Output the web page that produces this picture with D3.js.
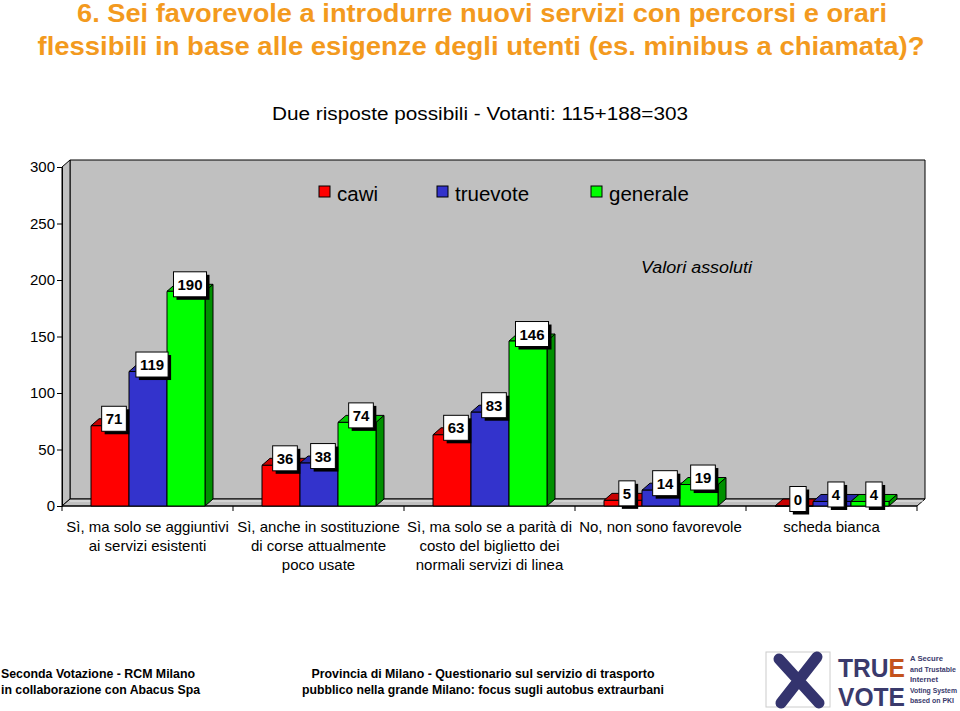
<!DOCTYPE html>
<html><head><meta charset="utf-8">
<script src="https://cdn.jsdelivr.net/npm/d3@7"></script>
<style>body{margin:0;background:#fff}svg{display:block}text{font-family:"Liberation Sans",Arial,sans-serif}</style>
</head><body>
<svg id="c" width="960" height="711"></svg>
<script>
const categories = [
  ["Sì, ma solo se aggiuntivi","ai servizi esistenti"],
  ["Sì, anche in sostituzione","di corse attualmente","poco usate"],
  ["Sì, ma solo se a parità di","costo del biglietto dei","normali servizi di linea"],
  ["No, non sono favorevole"],
  ["scheda bianca"]
];
const series = ["cawi","truevote","generale"];
const cawi = [71, 36, 63, 5, 0];
const truevote = [119, 38, 83, 14, 4];
const generale = [190, 74, 146, 19, 4];
const yTicks = [0, 50, 100, 150, 200, 250, 300];
const values = {cawi, truevote, generale};
const colors = {
  cawi: {front:"#FF0000", top:"#C80000", side:"#A00000"},
  truevote: {front:"#3333CC", top:"#2828A8", side:"#1E1E88"},
  generale: {front:"#00FF00", top:"#00C800", side:"#009000"}
};

const svg = d3.select("#c");
const DX = 8, DY = 7;
const x0 = d3.scaleBand().domain(d3.range(categories.length)).range([62, 917]);
const x1 = d3.scaleBand().domain(series).range([29, 143]);
const y = d3.scaleLinear().domain([0, 300]).range([506, 167]);

// Title
const title = svg.append("g").attr("fill", "#F39A1E").attr("font-weight", "bold")
  .style("font-family", '"Liberation Sans Narrow","Arial Narrow","Liberation Sans",Arial,sans-serif')
  .attr("font-size", 25).attr("text-anchor", "middle");
title.append("text").attr("x", 482).attr("y", 22).attr("textLength", 810).attr("lengthAdjust","spacingAndGlyphs")
  .text("6. Sei favorevole a introdurre nuovi servizi con percorsi e orari");
title.append("text").attr("x", 481).attr("y", 55).attr("textLength", 887).attr("lengthAdjust","spacingAndGlyphs")
  .text("flessibili in base alle esigenze degli utenti (es. minibus a chiamata)?");

svg.append("text").attr("x", 480).attr("y", 120).attr("text-anchor", "middle").attr("font-size", 18)
  .attr("textLength", 416).attr("lengthAdjust","spacingAndGlyphs")
  .text("Due risposte possibili -  Votanti: 115+188=303");

// 3D walls
const L = 62, R = 917, T = y(300), B = y(0);
const wall = svg.append("g").attr("stroke", "#000").attr("stroke-width", 1);
wall.append("path").attr("fill", "#C0C0C0")
  .attr("d", `M${L+DX},${T-DY}H${R+DX}V${B-DY}H${L+DX}Z`);
wall.append("path").attr("fill", "#C0C0C0")
  .attr("d", `M${L},${T}L${L+DX},${T-DY}V${B-DY}L${L},${B}Z`);
wall.append("path").attr("fill", "#C0C0C0")
  .attr("d", `M${L},${B}L${L+DX},${B-DY}H${R+DX}L${R},${B}Z`);
wall.append("path").attr("fill", "none").attr("stroke", "#E8E8E8")
  .attr("d", `M${L+DX},${B-DY+2}H${R+DX-2}`);

// Y axis
const yAxis = svg.append("g").attr("transform", `translate(${L},0)`)
  .call(d3.axisLeft(y).tickValues(yTicks).tickSize(5).tickPadding(2));
yAxis.select(".domain").attr("stroke", "#000");
yAxis.selectAll("text").attr("font-size", 15).attr("fill", "#000")
  .style("font-family", '"Liberation Sans",Arial,sans-serif');

// X axis front line with ticks
const xAxisG = svg.append("g");
xAxisG.append("path").attr("stroke", "#000").attr("fill", "none").attr("d", `M${L},${B}H${R}`);
xAxisG.selectAll("line.tk").data(d3.range(categories.length + 1)).join("line")
  .attr("x1", i => i < categories.length ? x0(i) : R).attr("x2", i => i < categories.length ? x0(i) : R)
  .attr("y1", B).attr("y2", B + 5).attr("stroke", "#000");

// Bars
const bars = svg.append("g").attr("stroke", "#000").attr("stroke-width", 1).attr("stroke-linejoin", "round");
const labels = [];
categories.forEach((c, i) => {
  series.forEach(s => {
    const v = values[s][i];
    const xa = x0(i) + x1(s), w = x1.bandwidth();
    const yt = y(v);
    const col = colors[s];
    bars.append("path").attr("fill", col.side)
      .attr("d", `M${xa+w},${B}V${yt}L${xa+w+DX},${yt-DY}V${B-DY}Z`);
    bars.append("path").attr("fill", col.top)
      .attr("d", `M${xa},${yt}L${xa+DX},${yt-DY}H${xa+w+DX}L${xa+w},${yt}Z`);
    bars.append("path").attr("fill", col.front)
      .attr("d", `M${xa},${B}V${yt}H${xa+w}V${B}Z`);
    labels.push({v, cx: xa + w/2 + DX/2, cy: yt - DY});
  });
});

// Value labels
const lg = svg.append("g");
labels.forEach(d => {
  const g = lg.append("g");
  const t = g.append("text").attr("x", d.cx).attr("y", d.cy + 5.5).attr("text-anchor", "middle")
    .attr("font-size", 15).attr("font-weight", "bold").text(d.v);
  const tw = t.node().getComputedTextLength();
  const bw = tw + 8, bh = 25;
  g.insert("rect", "text").attr("x", d.cx - bw/2 + 3).attr("y", d.cy - bh/2 + 3).attr("width", bw).attr("height", bh).attr("fill", "#000");
  g.insert("rect", "text").attr("x", d.cx - bw/2).attr("y", d.cy - bh/2).attr("width", bw).attr("height", bh)
    .attr("fill", "#fff").attr("stroke", "#000");
});

// Category labels
const cl = svg.append("g").attr("font-size", 15).attr("text-anchor", "middle");
categories.forEach((lines, i) => {
  lines.forEach((ln, j) => {
    cl.append("text").attr("x", x0(i) + x0.bandwidth()/2).attr("y", 532 + j*19).text(ln);
  });
});

// Legend
const legX = [319, 437, 591];
const leg = svg.append("g");
series.forEach((s, i) => {
  leg.append("rect").attr("x", legX[i]).attr("y", 186).attr("width", 11).attr("height", 11)
    .attr("fill", colors[s].front).attr("stroke", "#000");
  leg.append("text").attr("x", legX[i] + 18).attr("y", 201).attr("font-size", 20.5).text(s);
});

svg.append("text").attr("x", 641).attr("y", 273).attr("font-size", 16).attr("font-style", "italic")
  .attr("textLength", 111).attr("lengthAdjust","spacingAndGlyphs").text("Valori assoluti");

// Footer
const ft = svg.append("g").attr("font-weight", "bold").attr("font-size", 13)
  .style("font-family", '"Liberation Sans Narrow","Arial Narrow","Liberation Sans",Arial,sans-serif');
ft.append("text").attr("x", 1).attr("y", 678).attr("textLength", 194).attr("lengthAdjust","spacingAndGlyphs").text("Seconda Votazione - RCM Milano");
ft.append("text").attr("x", 1).attr("y", 694).attr("textLength", 199).attr("lengthAdjust","spacingAndGlyphs").text("in collaborazione con Abacus Spa");
ft.append("text").attr("x", 483).attr("y", 678).attr("text-anchor","middle").attr("textLength", 343).attr("lengthAdjust","spacingAndGlyphs").text("Provincia di Milano - Questionario sul servizio di trasporto");
ft.append("text").attr("x", 483).attr("y", 694).attr("text-anchor","middle").attr("textLength", 362).attr("lengthAdjust","spacingAndGlyphs").text("pubblico nella grande Milano: focus sugli autobus extraurbani");

// Logo
const logo = svg.append("g");
logo.append("rect").attr("x", 766).attr("y", 652).attr("width", 64).attr("height", 55).attr("fill", "#fff").attr("stroke", "#ccc");
logo.append("path").attr("d", "M779,659L819,703M817,657L781,703").attr("stroke", "#34346E").attr("stroke-width", 11).attr("stroke-linecap", "round");
const lt = logo.append("g").attr("font-weight", "bold").attr("fill", "#3A3A6C")
  .style("font-family", '"Liberation Sans Narrow","Arial Narrow","Liberation Sans",Arial,sans-serif');
const tr = lt.append("text").attr("transform", "translate(838,677) scale(1,1.25)").attr("font-size", 21)
  .attr("textLength", 67).attr("lengthAdjust","spacingAndGlyphs");
tr.append("tspan").text("TRU");
tr.append("tspan").attr("fill", "#C4521C").text("E");
lt.append("text").attr("transform", "translate(838,706) scale(1,1.25)").attr("font-size", 21)
  .attr("textLength", 67).attr("lengthAdjust","spacingAndGlyphs").text("VOTE");
const small = [["A Secure",33],["and Trustable",46],["Internet",28],["Voting System",47],["based on PKI",44]];
small.forEach(([t, w], i) => {
  lt.append("text").attr("x", 910).attr("y", 661 + i*10.5).attr("font-size", 7)
    .attr("textLength", w).attr("lengthAdjust","spacingAndGlyphs").text(t);
});
</script>
</body></html>
